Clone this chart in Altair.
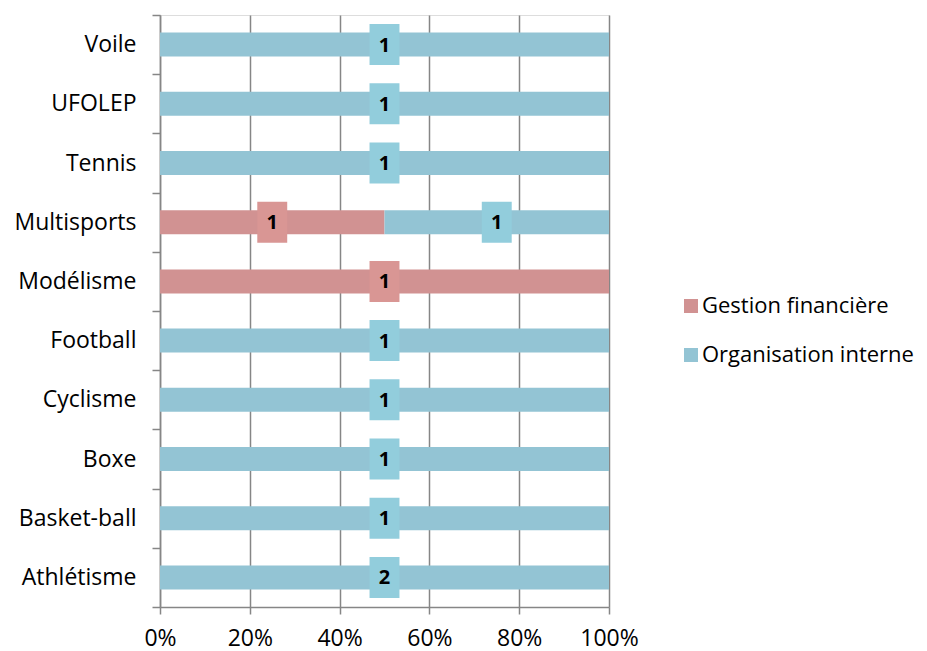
import altair as alt
import pandas as pd

categories = ["Voile", "UFOLEP", "Tennis", "Multisports", "Modélisme",
              "Football", "Cyclisme", "Boxe", "Basket-ball", "Athlétisme"]
series = ["Gestion financière", "Organisation interne"]
gestion = [0, 0, 0, 1, 1, 0, 0, 0, 0, 0]
organisation = [1, 1, 1, 1, 0, 1, 1, 1, 1, 2]
bar_colors = ["#D19292", "#93C4D4"]
box_colors = ["#D99694", "#92CDDC"]

rows = []
for i, c in enumerate(categories):
    for j, (s, vals) in enumerate(zip(series, [gestion, organisation])):
        if vals[i] > 0:
            rows.append({"cat": c, "series": s, "order": j, "value": vals[i],
                         "boxcol": box_colors[j]})
df = pd.DataFrame(rows)

FONT = "Open Sans"
FS = 23

base = alt.Chart(df).transform_stack(
    stack="value", as_=["s0", "s1"], groupby=["cat"], offset="normalize",
    sort=[alt.SortField("order", order="ascending")]
).transform_calculate(mid="(datum.s0 + datum.s1) / 2")

y = alt.Y("cat:N", sort=categories, title=None,
          scale=alt.Scale(paddingInner=0, paddingOuter=0),
          axis=alt.Axis(tickBand="extent", tickSize=8, labelPadding=16,
                        labelFontSize=FS, labelFont=FONT, labelColor="#000000",
                        labelLimit=0,
                        domainColor="#868686", tickColor="#868686",
                        domainWidth=1.5, tickWidth=1.5, grid=False))

bars = base.mark_bar(size=24).encode(
    x=alt.X("s0:Q", title=None, scale=alt.Scale(domain=[0, 1], nice=False),
            axis=alt.Axis(format=".0%", values=[0, 0.2, 0.4, 0.6, 0.8, 1.0],
                          tickSize=7, labelPadding=13, labelFontSize=FS,
                          labelFont=FONT, labelColor="#000000",
                          labelFlush=False, labelOverlap=False,
                          domainColor="#868686", tickColor="#868686",
                          domainWidth=1.5, tickWidth=1.5,
                          grid=True, gridColor="#868686", gridWidth=1.5)),
    x2="s1:Q",
    y=y,
    color=alt.Color("series:N", sort=series,
                    scale=alt.Scale(domain=series, range=bar_colors),
                    legend=alt.Legend(title=None, orient="none", legendX=520,
                                      legendY=280, symbolType="square",
                                      symbolSize=196, symbolStrokeWidth=0,
                                      labelFontSize=22, labelFont=FONT,
                                      labelColor="#000000", rowPadding=27,
                                      labelOffset=0, labelLimit=0)),
)

boxes = base.mark_point(
    shape="M-0.73,-1L0.73,-1L0.73,1L-0.73,1Z", size=1681, filled=True, opacity=1
).encode(
    x="mid:Q",
    y=alt.Y("cat:N", sort=categories),
    color=alt.Color("boxcol:N", scale=None),
)

labels = base.mark_text(fontSize=20, fontWeight="bold", font=FONT,
                        color="#000000", baseline="middle", dy=1).encode(
    x="mid:Q",
    y=alt.Y("cat:N", sort=categories),
    text="value:Q",
)

chart = alt.layer(bars, boxes, labels).properties(
    width=449, height=592,
    autosize=alt.AutoSizeParams(type="none"),
    padding={"left": 152, "top": 7, "right": 310, "bottom": 44},
).configure_view(stroke=None).configure(background="white")

chart.save("out.html", embed_options={"renderer": "svg", "actions": False})
